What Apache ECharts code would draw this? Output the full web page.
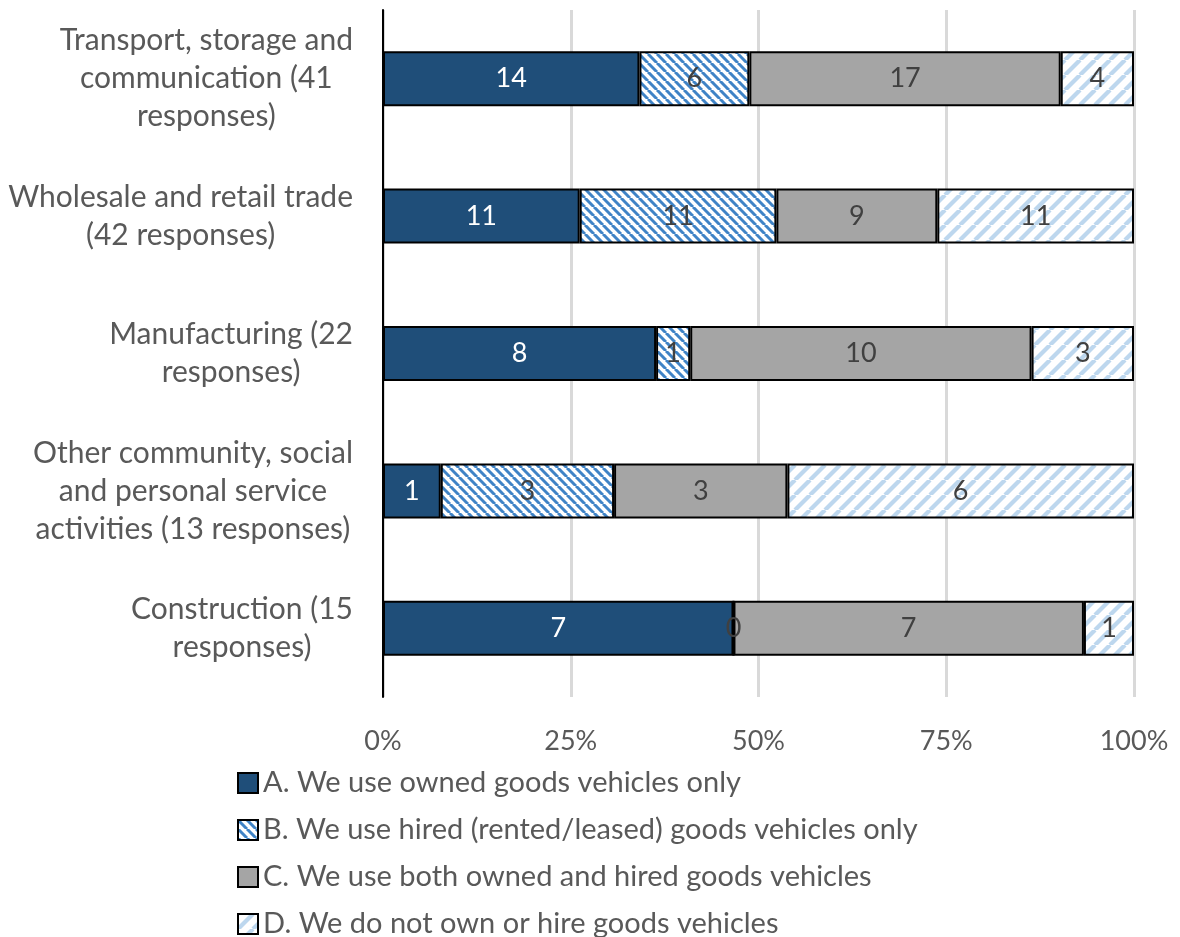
<!DOCTYPE html>
<html>
<head>
<meta charset="utf-8">
<script src="https://cdn.jsdelivr.net/npm/echarts@6/dist/echarts.min.js"></script>
<style>
  html, body { margin: 0; padding: 0; background: #ffffff; }
  #chart { width: 1180px; height: 937px; }
</style>
</head>
<body>
<div id="chart"></div>
<script>
// Sectors, listed top to bottom as drawn
const categories = [
  'Transport, storage and\ncommunication (41\nresponses)',
  'Wholesale and retail trade\n(42 responses)',
  'Manufacturing (22\nresponses)',
  'Other community, social\nand personal service\nactivities (13 responses)',
  'Construction (15\nresponses)'
];

// Response counts per sector
const ownedOnly = [14, 11, 8, 1, 7];
const hiredOnly = [6, 11, 1, 3, 0];
const ownedAndHired = [17, 9, 10, 3, 7];
const neither = [4, 11, 3, 6, 1];

const seriesNames = [
  'A. We use owned goods vehicles only',
  'B. We use hired (rented/leased) goods vehicles only',
  'C. We use both owned and hired goods vehicles',
  'D. We do not own or hire goods vehicles'
];

const tickLabels = ['0%', '25%', '50%', '75%', '100%'];

const FONT = 'Lato, "Open Sans", sans-serif';

// Diagonal stripe tiles for the hatched series
function stripeTile(size, color, width, backslash) {
  const c = document.createElement('canvas');
  c.width = size; c.height = size;
  const ctx = c.getContext('2d');
  ctx.fillStyle = '#ffffff';
  ctx.fillRect(0, 0, size, size);
  ctx.strokeStyle = color;
  ctx.lineWidth = width;
  for (let k = -1; k <= 1; k++) {
    ctx.beginPath();
    if (backslash) {
      ctx.moveTo(k * size, 0);
      ctx.lineTo(k * size + size, size);
    } else {
      ctx.moveTo(k * size, size);
      ctx.lineTo(k * size + size, 0);
    }
    ctx.stroke();
  }
  return { image: c, repeat: 'repeat' };
}

const counts = [ownedOnly, hiredOnly, ownedAndHired, neither];
const totals = categories.map((_, i) => counts.reduce((s, arr) => s + arr[i], 0));
const shares = counts.map(arr => arr.map((v, i) => v / totals[i] * 100));

const fills = [
  '#1f4e79',
  stripeTile(9, '#3f83c6', 3.0, true),
  '#a5a5a5',
  stripeTile(15, '#bdd7ee', 4.2, false)
];
const labelColors = ['#ffffff', '#404040', '#404040', '#404040'];

const chart = echarts.init(document.getElementById('chart'));

chart.setOption({
  animation: false,
  backgroundColor: '#ffffff',
  grid: { left: 383, right: 46, top: 10, bottom: 240, containLabel: false },
  legend: {
    orient: 'vertical',
    left: 232,
    top: 763,
    height: 400,
    itemWidth: 20,
    itemHeight: 20,
    itemGap: 17,
    icon: 'rect',
    textStyle: { fontFamily: FONT, fontSize: 29, color: '#595959', lineHeight: 30 },
    data: seriesNames
  },
  xAxis: {
    type: 'value',
    min: 0,
    max: 100,
    interval: 25,
    axisLine: { show: false },
    axisTick: { show: false },
    splitLine: { show: true, lineStyle: { color: '#d9d9d9', width: 3 } },
    axisLabel: {
      margin: 31,
      fontFamily: FONT,
      fontSize: 27,
      color: '#595959',
      formatter: (v) => tickLabels[Math.round(v / 25)]
    }
  },
  yAxis: {
    type: 'category',
    inverse: true,
    data: categories,
    axisLine: { show: true, lineStyle: { color: '#000000', width: 2 } },
    axisTick: { show: false },
    axisLabel: {
      margin: 30,
      formatter: (v) => v.split('\n').map(l => '{c|' + l + '}').join('\n'),
      rich: {
        c: { align: 'center', fontFamily: FONT, fontSize: 30, color: '#595959', lineHeight: 38 }
      }
    }
  },
  series: seriesNames.map((name, s) => ({
    name: name,
    type: 'bar',
    stack: 'total',
    barWidth: 55,
    data: shares[s],
    itemStyle: { color: fills[s], borderColor: '#000000', borderWidth: 2 },
    label: {
      show: true,
      position: 'inside',
      fontFamily: FONT,
      fontSize: 27,
      color: labelColors[s],
      formatter: (p) => String(counts[s][p.dataIndex])
    }
  }))
});
</script>
</body>
</html>
